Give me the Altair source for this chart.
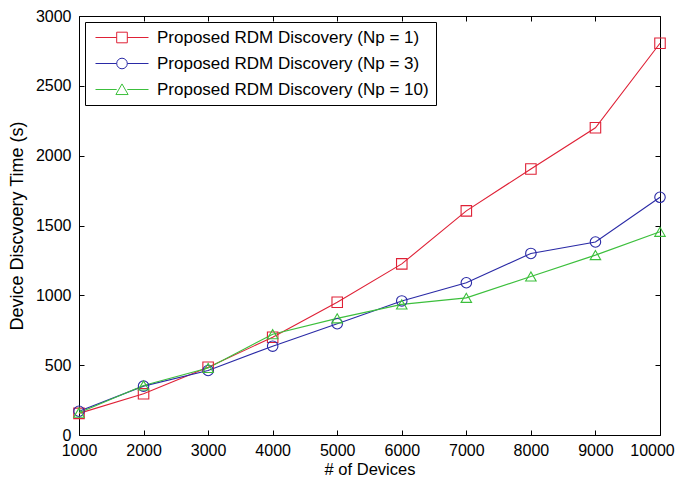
import altair as alt
import pandas as pd

devices = [1000, 2000, 3000, 4000, 5000, 6000, 7000, 8000, 9000, 10000]
np1 = [155, 295, 485, 700, 950, 1225, 1605, 1905, 2200, 2805]
np3 = [170, 350, 462, 636, 797, 960, 1090, 1300, 1382, 1702]
np10 = [160, 355, 480, 722, 835, 935, 982, 1135, 1288, 1455]

series_names = [
    "Proposed RDM Discovery (Np = 1)",
    "Proposed RDM Discovery (Np = 3)",
    "Proposed RDM Discovery (Np = 10)",
]
colors = ["#df2136", "#2a2aa6", "#3cbf3c"]

x_ticks = devices
y_ticks = [0, 500, 1000, 1500, 2000, 2500, 3000]

rows = []
for name, vals in zip(series_names, [np1, np3, np10]):
    for d, v in zip(devices, vals):
        rows.append({"devices": d, "time": v, "series": name})
df = pd.DataFrame(rows)

FONT = "Liberation Sans"

plot_shapes = ["square", "circle", "triangle-up"]
m = 0.2
legend_shapes = [
    f"M-1,0H{-m}M{m},0H1M{-m},{-m}H{m}V{m}H{-m}Z",
    f"M-1,0H{-m}M{m},0H1M{-m},0A{m},{m} 0 1,0 {m},0A{m},{m} 0 1,0 {-m},0Z",
    f"M-1,0H{-m}M{m},0H1M0,{-m*1.05}L{m*1.15},{m*0.95}L{-m*1.15},{m*0.95}Z",
]

xscale = alt.Scale(domain=[1000, 10000], nice=False, zero=False)
yscale = alt.Scale(domain=[0, 3000], nice=False)

common_axis = dict(
    domain=False, grid=False, tickSize=5, offset=-5, tickColor="black",
    labelFont=FONT, labelFontSize=16, labelColor="black", labelFlush=False,
    titleFont=FONT, titleFontWeight="normal", titleColor="black",
)

color_nolegend = alt.Color(
    "series:N", scale=alt.Scale(domain=series_names, range=colors), legend=None
)

lines = alt.Chart(df).mark_line(strokeWidth=1.1).encode(
    x=alt.X("devices:Q", scale=xscale,
            axis=alt.Axis(orient="bottom", values=x_ticks, format="d",
                          labelPadding=7,
                          labelOffset=alt.condition("datum.value == 10000",
                                                    alt.value(-8), alt.value(0)),
                          title="# of Devices", titleFontSize=16.5,
                          titlePadding=3, **common_axis)),
    y=alt.Y("time:Q", scale=yscale,
            axis=alt.Axis(orient="left", values=y_ticks, format="d",
                          labelPadding=8, title="Device Discvoery Time (s)",
                          titleFontSize=18, titlePadding=9, **common_axis)),
    color=color_nolegend,
    detail="series:N",
)

points = alt.Chart(df).mark_point(filled=False, size=110, strokeWidth=1.1, opacity=1).encode(
    x=alt.X("devices:Q", scale=xscale,
            axis=alt.Axis(orient="top", values=x_ticks, labels=False, title=None,
                          **common_axis)),
    y=alt.Y("time:Q", scale=yscale,
            axis=alt.Axis(orient="right", values=y_ticks, labels=False, title=None,
                          **common_axis)),
    color=color_nolegend,
    shape=alt.Shape("series:N", scale=alt.Scale(domain=series_names, range=plot_shapes),
                    legend=None),
)

legend_layer = alt.Chart(df).mark_point(filled=False, strokeWidth=1).encode(
    x=alt.X("devices:Q", scale=xscale, axis=None),
    y=alt.Y("time:Q", scale=yscale, axis=None),
    color=alt.Color("series:N", scale=alt.Scale(domain=series_names, range=colors),
                    legend=alt.Legend(title=None)),
    shape=alt.Shape("series:N", scale=alt.Scale(domain=series_names, range=legend_shapes),
                    legend=alt.Legend(title=None)),
    opacity=alt.value(0),
)

chart = alt.layer(lines, points, legend_layer).resolve_scale(
    color="independent", shape="independent"
).resolve_axis(
    x="independent", y="independent"
).properties(
    width=581, height=419, background="white",
    padding={"left": 0, "top": 0, "right": 0, "bottom": 0},
).configure_view(
    stroke="black", strokeWidth=1
).configure_legend(
    orient="top-left", offset=6, strokeColor="black", fillColor="white",
    padding=7, labelFont=FONT, labelFontSize=17, labelColor="black",
    symbolSize=2809, symbolStrokeWidth=1, symbolOpacity=1,
    symbolFillColor="transparent", rowPadding=8, labelOffset=8, symbolOffset=3,
    clipHeight=17, cornerRadius=0, labelLimit=400,
)

chart.save("out.html", embed_options={"renderer": "svg", "actions": False})
